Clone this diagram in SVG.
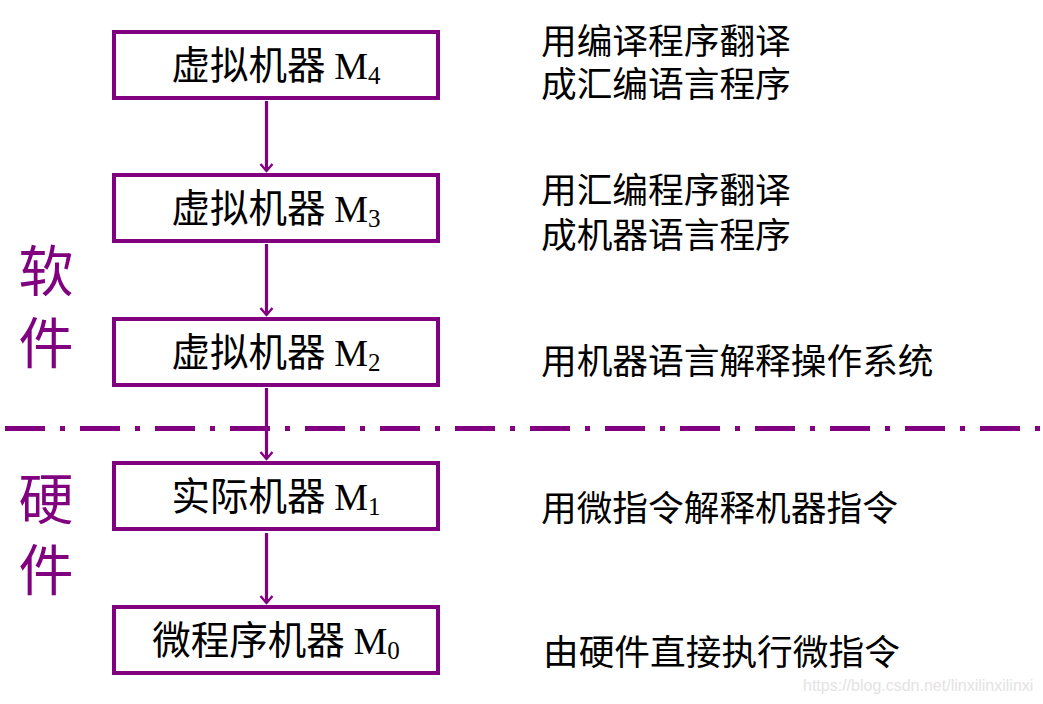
<svg xmlns="http://www.w3.org/2000/svg" width="1043" height="704" viewBox="0 0 1043 704">
<defs>
<style>
.box{fill:#fff;stroke:#800080;stroke-width:4}
.lbl{font-family:"Noto Sans CJK SC","Noto Sans CJK JP",sans-serif;font-size:38.5px;fill:#000;text-anchor:middle}
.m{font-family:"Liberation Serif",serif;font-size:38px}
.sub{font-family:"Liberation Serif",serif;font-size:25px}
.desc{font-family:"Noto Sans CJK SC","Noto Sans CJK JP",sans-serif;font-size:35.7px;fill:#000}
.side{font-family:"Noto Sans CJK SC","Noto Sans CJK JP",sans-serif;font-size:55px;fill:#800080;text-anchor:middle}
.conn{stroke:#800080;stroke-width:3.2;fill:none}
</style>
<marker id="arr" markerUnits="userSpaceOnUse" markerWidth="20" markerHeight="20" viewBox="-10 -10 20 20" refX="0" refY="0" orient="auto">
<path d="M-7,-6 L0,0 L-7,6" fill="none" stroke="#800080" stroke-width="2.4"/>
</marker>
</defs>
<rect width="1043" height="704" fill="#fff"/>
<line x1="5" y1="428.5" x2="1043" y2="428.5" stroke="#800080" stroke-width="5" stroke-dasharray="40 15 5 15"/>
<g id="connectors">
<line class="conn" x1="266.5" y1="101" x2="266.5" y2="171" marker-end="url(#arr)"/>
<line class="conn" x1="266.5" y1="244" x2="266.5" y2="315" marker-end="url(#arr)"/>
<line class="conn" x1="266.5" y1="388" x2="266.5" y2="459" marker-end="url(#arr)"/>
<line class="conn" x1="266.5" y1="533" x2="266.5" y2="603" marker-end="url(#arr)"/>
</g>
<g id="m4">
<rect class="box" x="114" y="32" width="324" height="66"/>
<text class="lbl" x="276" y="79">虚拟机器 <tspan class="m">M</tspan><tspan class="sub" dy="5">4</tspan></text>
</g>
<g id="m3">
<rect class="box" x="114" y="175" width="324" height="66"/>
<text class="lbl" x="276" y="222">虚拟机器 <tspan class="m">M</tspan><tspan class="sub" dy="5">3</tspan></text>
</g>
<g id="m2">
<rect class="box" x="114" y="319" width="324" height="66"/>
<text class="lbl" x="276" y="366">虚拟机器 <tspan class="m">M</tspan><tspan class="sub" dy="5">2</tspan></text>
</g>
<g id="m1">
<rect class="box" x="114" y="463" width="324" height="66"/>
<text class="lbl" x="276" y="510">实际机器 <tspan class="m">M</tspan><tspan class="sub" dy="5">1</tspan></text>
</g>
<g id="m0">
<rect class="box" x="114" y="607" width="324" height="66"/>
<text class="lbl" x="276" y="654">微程序机器 <tspan class="m">M</tspan><tspan class="sub" dy="5">0</tspan></text>
</g>
<g id="descriptions">
<text class="desc" x="541" y="54">用编译程序翻译</text>
<text class="desc" x="541" y="97">成汇编语言程序</text>
<text class="desc" x="541" y="203">用汇编程序翻译</text>
<text class="desc" x="541" y="248">成机器语言程序</text>
<text class="desc" x="541" y="374">用机器语言解释操作系统</text>
<text class="desc" x="541" y="521">用微指令解释机器指令</text>
<text class="desc" x="543" y="665">由硬件直接执行微指令</text>
</g>
<g id="side-labels">
<text class="side" x="46" y="291">软</text>
<text class="side" x="46" y="363">件</text>
<text class="side" x="46" y="519">硬</text>
<text class="side" x="46" y="590">件</text>
</g>
<text x="803" y="691" font-family="Liberation Sans, sans-serif" font-size="16" fill="#e3e3e3">https://blog.csdn.net/linxilinxilinxi</text>
</svg>
